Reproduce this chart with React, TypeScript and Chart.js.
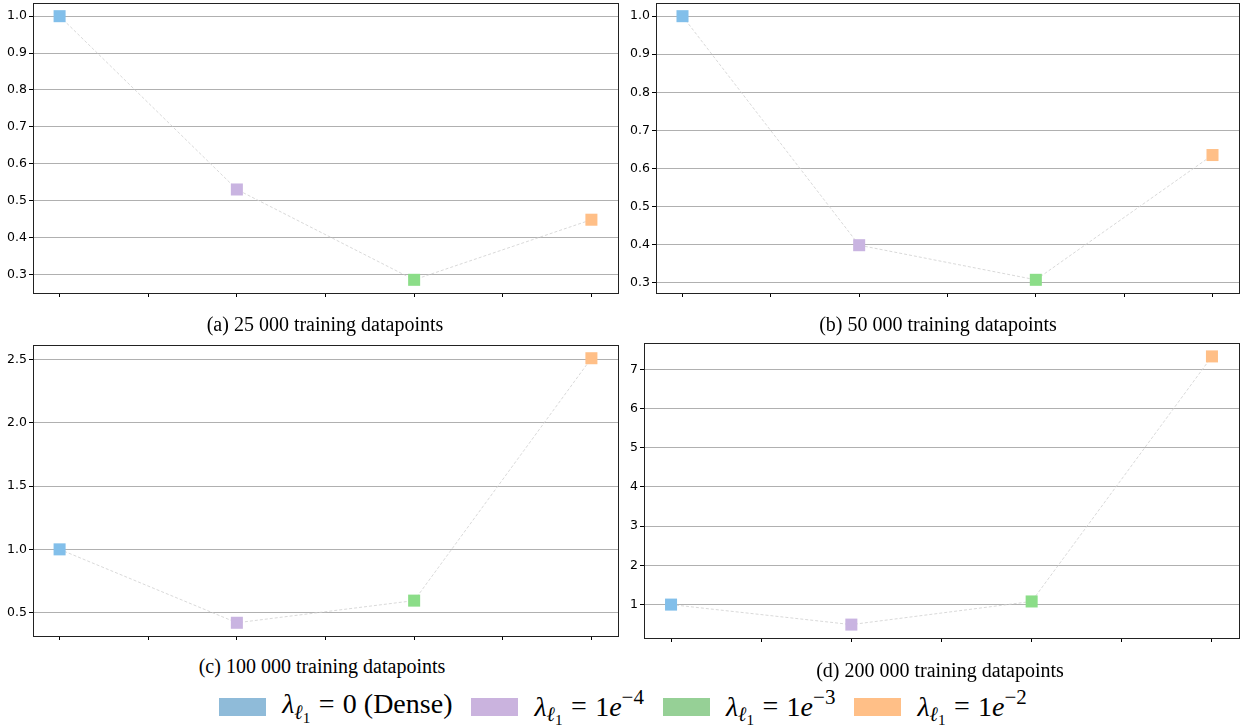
import React, { useEffect, useRef } from "react";
import { Chart, registerables } from "chart.js";
Chart.register(...registerables);

// ---- data ----
const categories = ["0 (Dense)", "1e-4", "1e-3", "1e-2"];
const xPositions = [0, 2, 4, 6];
const xTicks = [0, 1, 2, 3, 4, 5, 6];

const values25k = [1.0, 0.53, 0.285, 0.448];
const values50k = [1.0, 0.398, 0.307, 0.635];
const values100k = [1.0, 0.42, 0.595, 2.51];
const values200k = [1.0, 0.49, 1.08, 7.33];

const yTicks25k = ["0.3", "0.4", "0.5", "0.6", "0.7", "0.8", "0.9", "1.0"];
const yTicks50k = ["0.3", "0.4", "0.5", "0.6", "0.7", "0.8", "0.9", "1.0"];
const yTicks100k = ["0.5", "1.0", "1.5", "2.0", "2.5"];
const yTicks200k = ["1", "2", "3", "4", "5", "6", "7"];

const captions = [
  "(a) 25 000 training datapoints",
  "(b) 50 000 training datapoints",
  "(c) 100 000 training datapoints",
  "(d) 200 000 training datapoints",
];

const markerColors = ["#82bfea", "#c9b4e1", "#8bdd88", "#ffbf87"];
const legendColors = ["#8fbbd9", "#cab3de", "#96d096", "#ffbf87"];

// ---- layout ----
type Rect = { left: number; top: number; right: number; bottom: number };
const PADL = 45;
const PADT = 10;
const PADR = 10;
const PADB = 15;

const frame = {
  id: "frame",
  afterDraw(chart: any) {
    const { ctx, chartArea: a } = chart;
    ctx.save();
    ctx.strokeStyle = "#222";
    ctx.lineWidth = 1;
    ctx.strokeRect(Math.round(a.left) + 0.5, Math.round(a.top) + 0.5, Math.round(a.right - a.left), Math.round(a.bottom - a.top));
    ctx.restore();
  },
};

function Panel({ rect, values, yTicks }: { rect: Rect; values: number[]; yTicks: string[] }) {
  const ref = useRef<HTMLCanvasElement>(null);
  const w = rect.right - rect.left + PADL + PADR;
  const h = rect.bottom - rect.top + PADT + PADB;
  useEffect(() => {
    const yNums = yTicks.map(Number);
    const dMin = Math.min(...values);
    const dMax = Math.max(...values);
    const r = dMax - dMin;
    const xr = Math.max(...xPositions) - Math.min(...xPositions);
    const chart = new Chart(ref.current!, {
      type: "line",
      data: {
        labels: categories,
        datasets: [
          {
            data: xPositions.map((x, i) => ({ x, y: values[i] })),
            borderColor: "#cfcfcf",
            borderWidth: 0.8,
            borderDash: [3, 2],
            pointStyle: "rect",
            pointRadius: 8.5,
            pointHoverRadius: 8.5,
            pointBackgroundColor: markerColors,
            pointBorderWidth: 0,
            pointHoverBorderWidth: 0,
            tension: 0,
          },
        ],
      },
      options: {
        animation: false,
        responsive: false,
        events: [],
        layout: { padding: { left: 0, top: PADT, right: PADR, bottom: 0 } },
        plugins: { legend: { display: false }, tooltip: { enabled: false } },
        scales: {
          x: {
            type: "linear",
            min: Math.min(...xPositions) - 0.05 * xr,
            max: Math.max(...xPositions) + 0.05 * xr,
            afterBuildTicks: (s: any) => {
              s.ticks = xTicks.map((v) => ({ value: v }));
            },
            afterFit: (s: any) => {
              s.height = PADB;
            },
            grid: { drawOnChartArea: false, drawTicks: true, tickLength: 4, tickColor: "#000" },
            border: { display: true, color: "#000", width: 1 },
            ticks: { autoSkip: false, display: false },
          },
          y: {
            type: "linear",
            min: dMin - 0.05 * r,
            max: dMax + 0.05 * r,
            afterBuildTicks: (s: any) => {
              s.ticks = yNums.map((v) => ({ value: v }));
            },
            afterFit: (s: any) => {
              s.width = PADL;
            },
            grid: { color: "#b0b0b0", lineWidth: 1, drawTicks: true, tickLength: 4, tickColor: "#000" },
            border: { display: true, color: "#000", width: 1 },
            ticks: {
              autoSkip: false,
              color: "#000",
              padding: 2,
              font: { family: "DejaVu Sans", size: 12.5 },
              callback: (v: any) => {
                const i = yNums.findIndex((n) => Math.abs(n - v) < 1e-9);
                return i >= 0 ? yTicks[i] : "";
              },
            },
          },
        },
      },
      plugins: [frame],
    } as any);
    return () => chart.destroy();
  }, []);
  return (
    <canvas
      ref={ref}
      width={w}
      height={h}
      style={{ position: "absolute", left: rect.left - PADL, top: rect.top - PADT, width: w, height: h }}
    />
  );
}

function Caption({ text, cx, cy }: { text: string; cx: number; cy: number }) {
  return (
    <div
      style={{
        position: "absolute",
        left: cx - 250,
        width: 500,
        top: cy - 12,
        height: 24,
        lineHeight: "24px",
        textAlign: "center",
        fontFamily: "'Liberation Serif', serif",
        fontSize: 20,
        color: "#000",
        whiteSpace: "nowrap",
      }}
    >
      {text}
    </div>
  );
}

function LegendLabel({ idx }: { idx: number }) {
  const lam = (
    <>
      <i>λ</i>
      <sub style={{ fontSize: "0.72em", verticalAlign: "-0.3em" }}>
        <i>ℓ</i>
        <sub style={{ fontSize: "0.75em", verticalAlign: "-0.25em" }}>1</sub>
      </sub>
    </>
  );
  const exps = ["", "−4", "−3", "−2"];
  const eq = <span style={{ margin: "0 0.3em" }}>=</span>;
  return (
    <span style={{ whiteSpace: "nowrap" }}>
      {lam}
      {eq}
      {idx === 0 ? (
        "0 (Dense)"
      ) : (
        <>
          1<i>e</i>
          <sup style={{ fontSize: "0.75em", verticalAlign: "0.55em" }}>{exps[idx]}</sup>
        </>
      )}
    </span>
  );
}

export default function App() {
  return (
    <div style={{ position: "absolute", left: 0, top: 0, width: 1246, height: 727, background: "#fff", overflow: "hidden" }}>
      <Panel rect={{ left: 33, top: 3, right: 618, bottom: 293 }} values={values25k} yTicks={yTicks25k} />
      <Panel rect={{ left: 656, top: 3, right: 1239, bottom: 293 }} values={values50k} yTicks={yTicks50k} />
      <Panel rect={{ left: 33, top: 345, right: 618, bottom: 636 }} values={values100k} yTicks={yTicks100k} />
      <Panel rect={{ left: 644, top: 343, right: 1239, bottom: 638 }} values={values200k} yTicks={yTicks200k} />
      <Caption text={captions[0]} cx={325} cy={324} />
      <Caption text={captions[1]} cx={938} cy={324} />
      <Caption text={captions[2]} cx={322} cy={666} />
      <Caption text={captions[3]} cx={940} cy={670} />
      <div
        style={{
          position: "absolute",
          left: 0,
          width: 1246,
          top: 689,
          height: 36,
          display: "flex",
          justifyContent: "center",
          alignItems: "center",
          fontFamily: "'Liberation Serif', serif",
          fontSize: 28,
          color: "#000",
        }}
      >
        {legendColors.map((c, i) => (
          <div key={i} style={{ display: "flex", alignItems: "center", marginLeft: i === 0 ? 0 : 19 }}>
            <div style={{ width: 47, height: 18, background: c, marginRight: 16 }} />
            <LegendLabel idx={i} />
          </div>
        ))}
      </div>
    </div>
  );
}
